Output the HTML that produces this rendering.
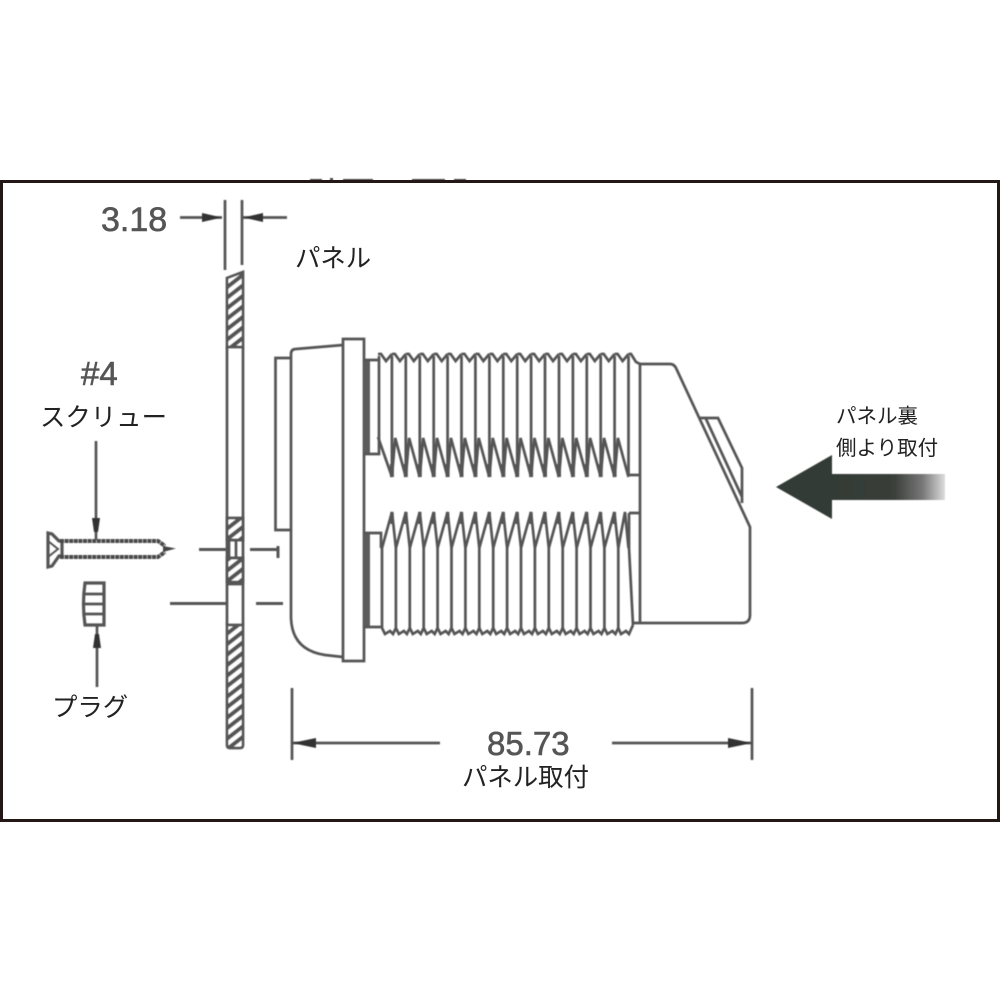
<!DOCTYPE html>
<html lang="ja">
<head>
<meta charset="utf-8">
<title>パネル取付図</title>
<style>
html,body{margin:0;padding:0;background:#fff;width:1000px;height:1000px;overflow:hidden}
svg{display:block}
.jp{font-family:"Liberation Sans","Noto Sans CJK JP",sans-serif;fill:#222}
.num{font-family:"Liberation Sans",sans-serif;fill:#555;stroke:#555;stroke-width:.6}
</style>
</head>
<body>
<svg xmlns="http://www.w3.org/2000/svg" width="1000" height="1000" viewBox="0 0 1000 1000">
<defs>
<filter id="b" x="-5%" y="-5%" width="110%" height="110%"><feGaussianBlur stdDeviation="0.55"/></filter>
<filter id="t" x="-5%" y="-5%" width="110%" height="110%"><feGaussianBlur stdDeviation="0.35"/></filter>
<pattern id="h" patternUnits="userSpaceOnUse" width="10" height="10.5" patternTransform="skewY(-38)">
<rect width="10" height="10.5" fill="#fff"/><rect width="10" height="5.2" fill="#555"/>
</pattern>
<linearGradient id="fade" x1="832" x2="945" y1="0" y2="0" gradientUnits="userSpaceOnUse">
<stop offset="0" stop-color="#333a35"/><stop offset=".55" stop-color="#3a3f3a"/>
<stop offset=".8" stop-color="#777"/><stop offset="1" stop-color="#ddd"/>
</linearGradient>
<g id="u"><path d="M0,354L3,354L8,361L13.9,354M0,356V477L3.3,438L13.9,477"/><path d="M0,464V477" stroke-width="4"/></g>
<g id="l"><path d="M0,548V628M0,548L10,512L13.9,548M0,628L3,634L8,631L11,634L13.9,628"/><path d="M10,512V524" stroke-width="3.4"/></g>
</defs>

<rect width="1000" height="1000" fill="#fff"/>

<g fill="#444" filter="url(#b)">
<rect x="310" y="179" width="12" height="2"/><rect x="330" y="178" width="3" height="3"/>
<rect x="343" y="179" width="30" height="2"/><rect x="412" y="179" width="33" height="2"/><rect x="454" y="179" width="12" height="2"/>
</g>
<rect x="1.5" y="181.5" width="997" height="639" fill="none" stroke="#231815" stroke-width="3"/>

<g filter="url(#b)" fill="none" stroke="#555" stroke-width="2.7">
<!-- top dimension -->
<path d="M225,200V270M242,200V265M180,217.5H222M243,217.5H287"/>
<path d="M202,213L222,217.5L202,222ZM263,213L243,217.5L263,222Z" fill="#333" stroke="none"/>

<!-- panel -->
<path d="M227,278L243,272V347H227Z" fill="url(#h)"/>
<path d="M227,518H243V540H227Z" fill="url(#h)"/>
<path d="M227,558H243V582H227Z" fill="url(#h)"/>
<path d="M227,625H243V745Q243,748 240,748H230Q227,748 227,745Z" fill="url(#h)"/>
<path d="M227,347V625M243,347V625M227,518V582M243,518V582M227,540H243M227,558H243M229,540V558M236,540V558M227,584H243"/>

<!-- center lines -->
<path d="M199,549.5H226M250,549.5H278M278,546V558M170,603.5H226M256,603.5H283" stroke-width="3"/>

<!-- screw -->
<path d="M48,533V567L52,566L59,556H62V541H59L52,534Z" stroke-width="3.2"/>
<path d="M48,541L58,549L48,557" stroke-width="2"/>
<path d="M60,541H158L165,546M60,557H158L165,552" stroke="#4a4a4a" stroke-width="4" stroke-dasharray="4 .6"/>
<path d="M163,546L176,548.5L163,552" fill="#444" stroke="none"/>
<path d="M96,441V540"/>
<path d="M92,518H100L98,532H94Z" fill="#333" stroke="none"/>

<!-- plug -->
<path d="M85,583H104V625H85Q82,604 85,583Z" stroke-width="3.2"/>
<path d="M84,594H105M84,604H105M84,614H105" stroke-width="2.8"/>
<path d="M97,626V687"/>
<path d="M93,648H101L99,634H95Z" fill="#333" stroke="none"/>

<!-- plate left of body -->
<path d="M290,358H275.5V530H290"/>

<!-- body -->
<path d="M291,530V618Q292,650 325,655L343,657M291,530V354Q291,349 296,349L343,345"/>
<path d="M343,339H364V661H343Z"/>

<!-- shank strips -->
<rect x="364" y="360" width="6" height="93" fill="#5c5c5c" stroke="none"/>
<rect x="364" y="534" width="6" height="92" fill="#5c5c5c" stroke="none"/>
<path d="M364,360H378M364,454H379V356M364,533H381V548M364,627H383"/>
<path d="M378,437L392,477"/>

<!-- upper thread -->
<path d="M378,354L381,354L386,361L391.9,354"/>
<use href="#u" x="391.9"/><use href="#u" x="405.8"/><use href="#u" x="419.8"/>
<use href="#u" x="433.7"/><use href="#u" x="447.6"/><use href="#u" x="461.5"/><use href="#u" x="475.4"/>
<use href="#u" x="489.4"/><use href="#u" x="503.3"/><use href="#u" x="517.2"/><use href="#u" x="531.1"/>
<use href="#u" x="545"/><use href="#u" x="559"/><use href="#u" x="572.9"/><use href="#u" x="586.8"/>
<use href="#u" x="600.7"/><use href="#u" x="614.6"/>
<path d="M628.5,354L631,354L636,362L640,364M628.5,356V475H640"/>

<!-- lower thread -->
<use href="#l" x="382"/><use href="#l" x="395.9"/><use href="#l" x="409.8"/><use href="#l" x="423.7"/>
<use href="#l" x="437.6"/><use href="#l" x="451.5"/><use href="#l" x="465.4"/><use href="#l" x="479.3"/>
<use href="#l" x="493.2"/><use href="#l" x="507.1"/><use href="#l" x="521"/><use href="#l" x="534.9"/>
<use href="#l" x="548.8"/><use href="#l" x="562.7"/><use href="#l" x="576.6"/><use href="#l" x="590.5"/>
<use href="#l" x="604.4"/>
<path d="M618.3,548V628M618.3,548L625,512L628.5,548M618.3,628L621,634L626,631L629,634L633,625"/>
<path d="M629,513H640M629,513V548L633,625"/>

<!-- tail -->
<path d="M640,363V624"/>
<path d="M640,364H670Q674,364 676,368L750,527V615Q750,623 742,623H633"/>
<path d="M699,418H718L742,468V503M706,419L742,497"/>

<!-- bottom dimension -->
<path d="M292,688V760M752,688V760M292,743H440M612,743H752"/>
<path d="M292,743L316,738V748ZM752,743L728,738V748Z" fill="#333" stroke="none"/>
</g>

<!-- big arrow -->
<g filter="url(#b)">
<path d="M776,487L832,455V474H945V500H832V519Z" fill="url(#fade)"/>
</g>

<g filter="url(#t)">
<text class="num" x="101" y="231" font-size="34">3.18</text>
<text class="num" x="81" y="385" font-size="33">#4</text>
<text class="num" x="487" y="755" font-size="33">85.73</text>
<text class="jp" x="295" y="267" font-size="25.4">パネル</text>
<text class="jp" x="40" y="426" font-size="25.4">スクリュー</text>
<text class="jp" x="52" y="716" font-size="25.4">プラグ</text>
<text class="jp" x="462" y="786" font-size="25.4">パネル取付</text>
<text class="jp" x="836" y="423" font-size="20.5">パネル裏</text>
<text class="jp" x="836" y="455" font-size="20.5">側より取付</text>
</g>
</svg>
</body>
</html>
